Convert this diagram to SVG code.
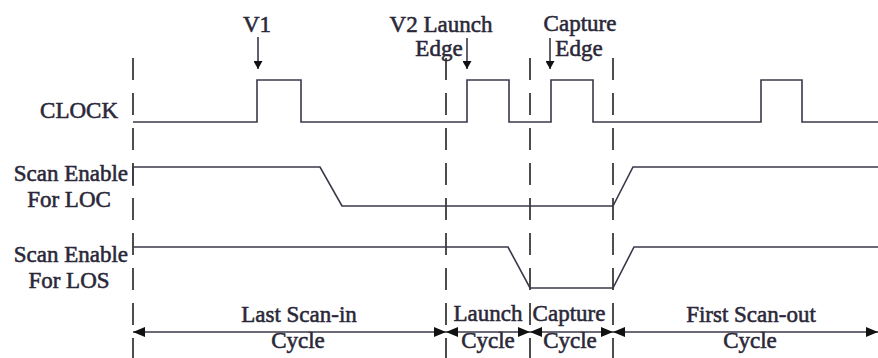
<svg xmlns="http://www.w3.org/2000/svg" width="878" height="358" viewBox="0 0 878 358">
<defs>
<style>
text{font-family:"Liberation Serif","Times New Roman",serif;font-size:23px;fill:#2a2838;stroke:#2a2838;stroke-width:0.55}
.mid{text-anchor:middle}
.end{text-anchor:end}
.sig{fill:none;stroke:#3a3848;stroke-width:1.6;stroke-linejoin:miter}
.dash{fill:none;stroke:#222;stroke-width:1.6;stroke-dasharray:22 13}
.arr{fill:none;stroke:#3a3848;stroke-width:1.6}
</style>
<marker id="ah" viewBox="0 0 12 10" refX="12" refY="5" markerWidth="12" markerHeight="10" markerUnits="userSpaceOnUse" orient="auto-start-reverse">
<path d="M0,0 L12,5 L0,10 Z" fill="#111"/>
</marker>
<marker id="dh" viewBox="0 0 8 9" refX="8" refY="4.5" markerWidth="8" markerHeight="9" markerUnits="userSpaceOnUse" orient="auto">
<path d="M0,0 L8,4.5 L0,9 Z" fill="#111"/>
</marker>
</defs>
<rect width="878" height="358" fill="#fff"/>

<g id="boundaries">
<line class="dash" x1="133" y1="58" x2="133" y2="358"/>
<line class="dash" x1="446" y1="58" x2="446" y2="358"/>
<line class="dash" x1="530" y1="58" x2="530" y2="358"/>
<line class="dash" x1="613" y1="58" x2="613" y2="358"/>
</g>

<g id="clock">
<text class="end" x="118" y="118">CLOCK</text>
<path class="sig" d="M133,122 H257 V80 H301 V122 H467 V80 H509 V122 H551 V80 H593 V122 H761 V80 H802 V122 H878"/>
</g>

<g id="se-loc">
<text class="end" x="128" y="181">Scan Enable</text>
<text class="mid" x="69" y="207">For LOC</text>
<path class="sig" d="M133,186 V167 H320 L342,206 H613 L633,167 H878"/>
</g>

<g id="se-los">
<text class="end" x="128" y="262">Scan Enable</text>
<text class="mid" x="69" y="288">For LOS</text>
<path class="sig" d="M133,247 H508 L530,288 H613 L634,247 H878"/>
</g>

<g id="edge-labels">
<text class="mid" x="257" y="32">V1</text>
<text class="mid" x="441" y="32">V2 Launch</text>
<text class="mid" x="439" y="56">Edge</text>
<text class="mid" x="580" y="31">Capture</text>
<text class="mid" x="579" y="56">Edge</text>
</g>

<g id="cycle-labels">
<text class="mid" x="299" y="322">Last Scan-in</text>
<text class="mid" x="298" y="348">Cycle</text>
<text class="mid" x="488" y="321">Launch</text>
<text class="mid" x="488" y="348">Cycle</text>
<text class="mid" x="569" y="321">Capture</text>
<text class="mid" x="570" y="348">Cycle</text>
<text class="mid" x="751" y="322">First Scan-out</text>
<text class="mid" x="750" y="348">Cycle</text>
</g>

<g id="connectors">
<line class="arr" x1="258" y1="37" x2="258" y2="69" marker-end="url(#dh)"/>
<line class="arr" x1="467" y1="38" x2="467" y2="69" marker-end="url(#dh)"/>
<line class="arr" x1="550" y1="38" x2="550" y2="69" marker-end="url(#dh)"/>
<line class="arr" x1="133" y1="332" x2="446" y2="332" marker-start="url(#ah)" marker-end="url(#ah)"/>
<line class="arr" x1="446" y1="332" x2="530" y2="332" marker-start="url(#ah)" marker-end="url(#ah)"/>
<line class="arr" x1="530" y1="332" x2="613" y2="332" marker-start="url(#ah)" marker-end="url(#ah)"/>
<line class="arr" x1="613" y1="332" x2="878" y2="332" marker-start="url(#ah)" marker-end="url(#ah)"/>
</g>
</svg>
